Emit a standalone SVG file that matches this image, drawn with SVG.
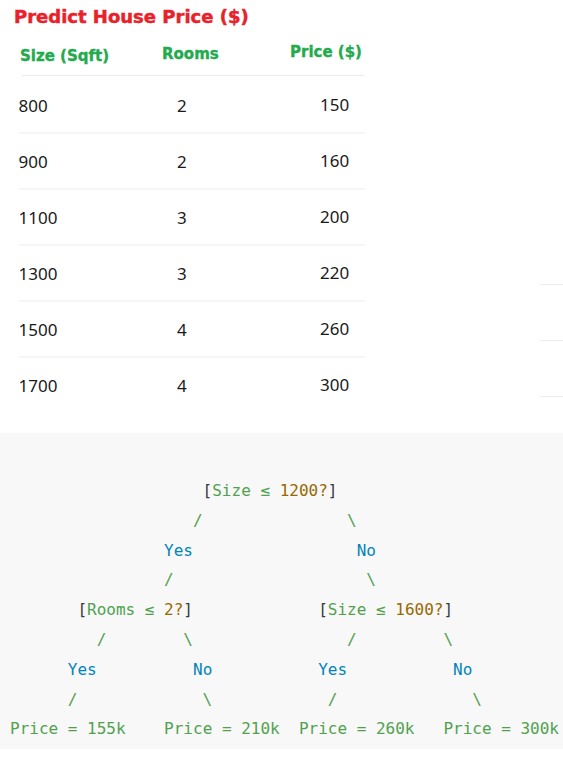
<svg xmlns="http://www.w3.org/2000/svg" width="563" height="765" viewBox="0 0 563 765">
<style>
.title{font-family:"DejaVu Sans",sans-serif;font-weight:bold;font-size:18px;fill:#e8222a;stroke:#e8222a;stroke-width:0.5}
.hdr{font-family:"DejaVu Sans",sans-serif;font-weight:bold;font-size:15px;fill:#22aa4c;stroke:#22aa4c;stroke-width:0.35}
.cell{font-family:"Noto Sans","Open Sans",sans-serif;font-size:17px;fill:#1a1a1a}
.rule{stroke:#ececec;stroke-width:1}
.code{font-family:"DejaVu Sans Mono",monospace;font-size:16px}
.g{fill:#50a14f}
.b{fill:#986801}
.k{fill:#383a42}
.y{fill:#0184bc}
</style>
<rect width="563" height="765" fill="#ffffff"/>
<g id="title"><text class="title" x="14" y="23">Predict House Price ($)</text></g>
<g id="table">
<text class="hdr" x="20" y="61">Size (Sqft)</text>
<text class="hdr" x="162" y="59">Rooms</text>
<text class="hdr" x="290" y="57">Price ($)</text>
<line class="rule" x1="22" y1="75.5" x2="365" y2="75.5" stroke="#e4e4e4"/>
<g id="rows">
<text class="cell" x="18.5" y="112">800</text><text class="cell" x="177" y="112">2</text><text class="cell" x="320" y="110.5">150</text>
<text class="cell" x="18.5" y="168">900</text><text class="cell" x="177" y="168">2</text><text class="cell" x="320" y="166.5">160</text>
<text class="cell" x="18.5" y="224">1100</text><text class="cell" x="177" y="224">3</text><text class="cell" x="320" y="222.5">200</text>
<text class="cell" x="18.5" y="280">1300</text><text class="cell" x="177" y="280">3</text><text class="cell" x="320" y="278.5">220</text>
<text class="cell" x="18.5" y="336">1500</text><text class="cell" x="177" y="336">4</text><text class="cell" x="320" y="334.5">260</text>
<text class="cell" x="18.5" y="392">1700</text><text class="cell" x="177" y="392">4</text><text class="cell" x="320" y="390.5">300</text>
</g>
<g id="row-rules">
<line class="rule" x1="19" y1="133" x2="365" y2="133"/>
<line class="rule" x1="19" y1="189" x2="365" y2="189"/>
<line class="rule" x1="19" y1="245" x2="365" y2="245"/>
<line class="rule" x1="19" y1="301" x2="365" y2="301"/>
<line class="rule" x1="19" y1="357" x2="365" y2="357"/>
<line class="rule" x1="540" y1="284.5" x2="563" y2="284.5"/>
<line class="rule" x1="540" y1="340.5" x2="563" y2="340.5"/>
<line class="rule" x1="540" y1="396.5" x2="563" y2="396.5"/>
</g>
</g>
<rect x="0" y="433" width="563" height="316" fill="#f8f8f8"/>
<g id="tree" class="code" xml:space="preserve">
<g id="root"><text x="202.6" y="496"><tspan class="k">[</tspan><tspan class="g">Size ≤ </tspan><tspan class="b">1200?</tspan><tspan class="k">]</tspan></text></g>
<g id="edge-labels">
<text class="y" x="164.1" y="555.6">Yes</text>
<text class="y" x="356.7" y="555.6">No</text>
<text class="y" x="67.8" y="674.8">Yes</text>
<text class="y" x="193" y="674.8">No</text>
<text class="y" x="318.2" y="674.8">Yes</text>
<text class="y" x="453" y="674.8">No</text>
</g>
<g id="rooms-node"><text x="77.4" y="615.2"><tspan class="k">[</tspan><tspan class="g">Rooms ≤ </tspan><tspan class="b">2?</tspan><tspan class="k">]</tspan></text></g>
<g id="size-node"><text x="318.2" y="615.2"><tspan class="k">[</tspan><tspan class="g">Size ≤ </tspan><tspan class="b">1600?</tspan><tspan class="k">]</tspan></text></g>
<g id="leaf-155"><text class="g" x="10" y="734.4">Price = 155k</text></g>
<g id="leaf-210"><text class="g" x="164.1" y="734.4">Price = 210k</text></g>
<g id="leaf-260"><text class="g" x="298.9" y="734.4">Price = 260k</text></g>
<g id="leaf-300"><text class="g" x="443.4" y="734.4">Price = 300k</text></g>
<g id="connectors" class="g">
<text x="193" y="525.8">/</text>
<text x="347.1" y="525.8">\</text>
<text x="164.1" y="585.4">/</text>
<text x="366.3" y="585.4">\</text>
<text x="96.7" y="645">/</text>
<text x="183.3" y="645">\</text>
<text x="347.1" y="645">/</text>
<text x="443.4" y="645">\</text>
<text x="67.8" y="704.6">/</text>
<text x="202.6" y="704.6">\</text>
<text x="327.8" y="704.6">/</text>
<text x="472.2" y="704.6">\</text>
</g>
</g>
</svg>
